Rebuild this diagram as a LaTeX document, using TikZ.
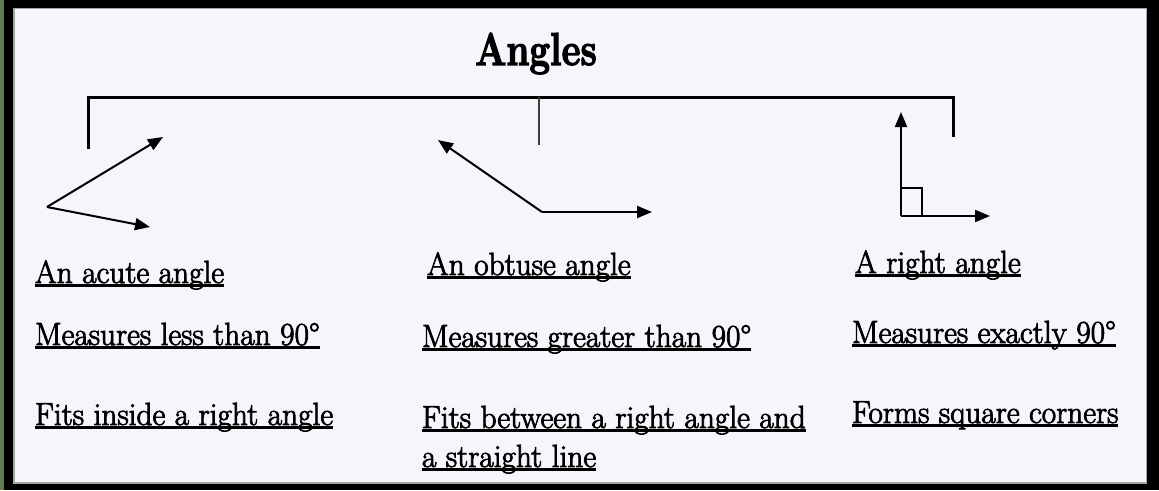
\documentclass[tikz,border=0pt]{standalone}
\usepackage{fontspec}
\usepackage{graphicx}
\usetikzlibrary{arrows.meta}
\newfontfamily\bodyfont{Latin Modern Roman}[FakeBold=2.6]
\newfontfamily\titlefont{Latin Modern Roman}[BoldFeatures={FakeBold=3}]
\definecolor{bgpaper}{HTML}{F4F6FC}
\definecolor{framegreen}{HTML}{5E7E4C}
\definecolor{stemcol}{HTML}{4A3A30}
\newcommand\ulx[1]{\setbox0\hbox{#1}\rlap{\rule[-3.5pt]{\wd0}{2.6pt}}\box0}
\newcommand\bodytext[1]{\scalebox{0.98}[1]{\bodyfont\fontsize{32}{36}\selectfont\ulx{#1}}}
\tikzset{
  lbl/.style={anchor=base west, inner sep=0pt, outer sep=0pt},
  ray/.style={line width=2pt, -{Triangle[length=15pt,width=12pt]}},
  bracket/.style={line width=3pt},
}
\begin{document}
\begin{tikzpicture}[x=1pt,y=-1pt]
\useasboundingbox (0,0) rectangle (1159,490);
% frame
\fill[black] (0,0) rectangle (1159,490);
\fill[framegreen] (0,0) rectangle (4,490);
\fill[gray!70] (13,8) rectangle (1147,484);
\fill[bgpaper] (15,9) rectangle (1146,482);
% title
\node[anchor=base, inner sep=0pt] (title) at (536,65) {\scalebox{0.8}[1]{\titlefont\bfseries\fontsize{46}{50}\selectfont Angles}};
% bracket
\coordinate (bl) at (88,149);
\coordinate (br) at (953,137);
\coordinate (bm) at (539,145);
\coordinate (tl) at (88,97);
\coordinate (tr) at (953,97);
\coordinate (tm) at (539,97);
\draw[bracket, line cap=butt] (bl) -- (tl) -- (tr) -- (br);
\draw[line width=1.5pt, stemcol] (tm) -- (bm);
% acute angle
\coordinate (av) at (47,207);
\coordinate (a1) at (163,137);
\coordinate (a2) at (150,227);
\draw[ray] (av) -- (a1);
\draw[ray] (av) -- (a2);
% obtuse angle
\coordinate (ov) at (542,212);
\coordinate (o1) at (438,140);
\coordinate (o2) at (652,212);
\draw[ray] (ov) -- (o1);
\draw[ray] (ov) -- (o2);
% right angle
\coordinate (rv) at (901,216);
\coordinate (r1) at (901,112);
\coordinate (r2) at (990,216);
\draw[ray] (rv) -- (r1);
\draw[ray] (rv) -- (r2);
\draw[line width=1.8pt] (901,188) -- (922,188) -- (922,216);
% column 1
\node[lbl] (c1a) at (35,283) {\bodytext{An acute angle}};
\node[lbl] (c1b) at (35,345) {\bodytext{Measures less than 90°}};
\node[lbl] (c1c) at (35,425) {\bodytext{Fits inside a right angle}};
% column 2
\node[lbl] (c2a) at (427,275) {\bodytext{An obtuse angle}};
\node[lbl] (c2b) at (422,347) {\bodytext{Measures greater than 90°}};
\node[lbl] (c2c) at (422,428) {\bodytext{Fits between a right angle and}};
\node[lbl] (c2d) at (422,467) {\bodytext{a straight line}};
% column 3
\node[lbl] (c3a) at (855,273) {\bodytext{A right angle}};
\node[lbl] (c3b) at (852,343) {\bodytext{Measures exactly 90°}};
\node[lbl] (c3c) at (852,423) {\bodytext{Forms square corners}};
\end{tikzpicture}
\end{document}
